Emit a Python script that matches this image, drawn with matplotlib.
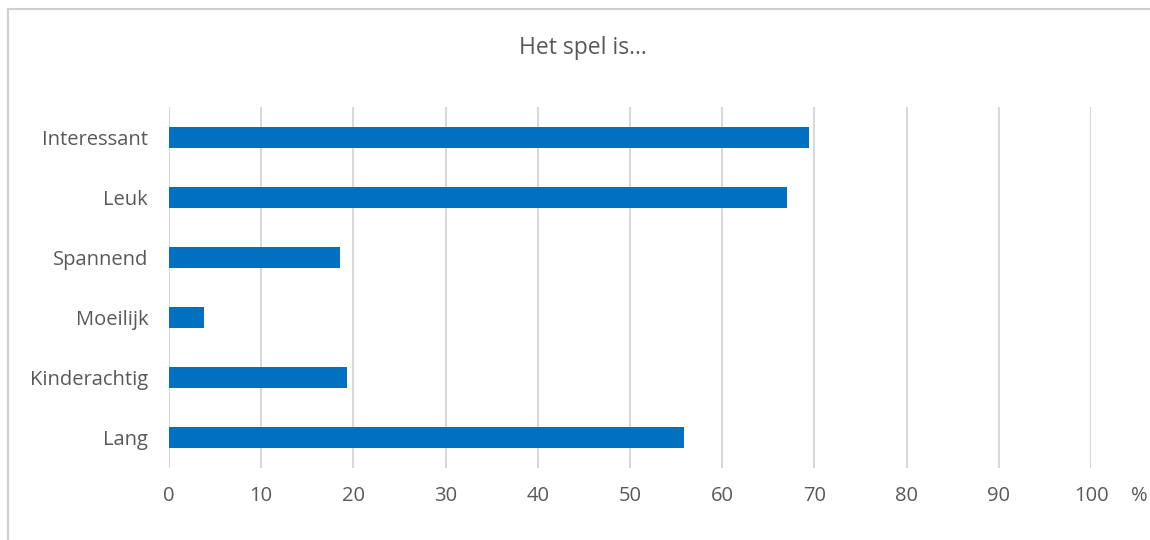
import matplotlib
matplotlib.use("Agg")
import matplotlib.pyplot as plt
from matplotlib.patches import Rectangle

categories = ["Interessant", "Leuk", "Spannend", "Moeilijk", "Kinderachtig", "Lang"]
values = [69.4, 67.0, 18.5, 3.8, 19.3, 55.9]
xticks = [0, 10, 20, 30, 40, 50, 60, 70, 80, 90, 100]

BLUE = "#0070C0"; GRAY = "#595959"; GRID = "#D9D9D9"
plt.rcParams["font.family"] = ["Open Sans", "DejaVu Sans"]
FS = 14.5

fig = plt.figure(figsize=(11.5, 5.4), dpi=100)
fig.patches.append(Rectangle((8 / 1150, -0.1), 1.2, 1 - 9 / 540 + 0.1, transform=fig.transFigure,
                             fill=False, edgecolor="#D0D0D0", lw=1.5))
ax = fig.add_axes([169 / 1150, 1 - 468 / 540, (1091 - 169) / 1150, (468 - 107) / 540])

y = list(range(len(categories)))
ax.barh(y, values, height=0.35, color=BLUE, zorder=3)
ax.set_ylim(len(categories) - 0.5, -0.5)
ax.set_xlim(0, 100)
ax.set_yticks(y)
ax.set_yticklabels(categories)
ax.set_xticks(xticks)
ax.set_xticklabels([str(t) for t in xticks])
ax.tick_params(axis="both", length=0, labelsize=FS, colors=GRAY)
ax.tick_params(axis="x", pad=13)
ax.tick_params(axis="y", pad=15)
for s in ax.spines.values():
    s.set_visible(False)
for t in xticks:
    ax.axvline(t, color=GRID, lw=1.5, zorder=1)

ax.annotate("%", xy=(1.052, 0), xycoords="axes fraction", xytext=(0, -13),
            textcoords="offset points", fontsize=FS, color=GRAY, ha="center", va="top")
fig.text(583 / 1150, 1 - 48 / 540, "Het spel is...", fontsize=16.5, color=GRAY,
         ha="center", va="center")

fig.savefig("out.png", dpi=100)
